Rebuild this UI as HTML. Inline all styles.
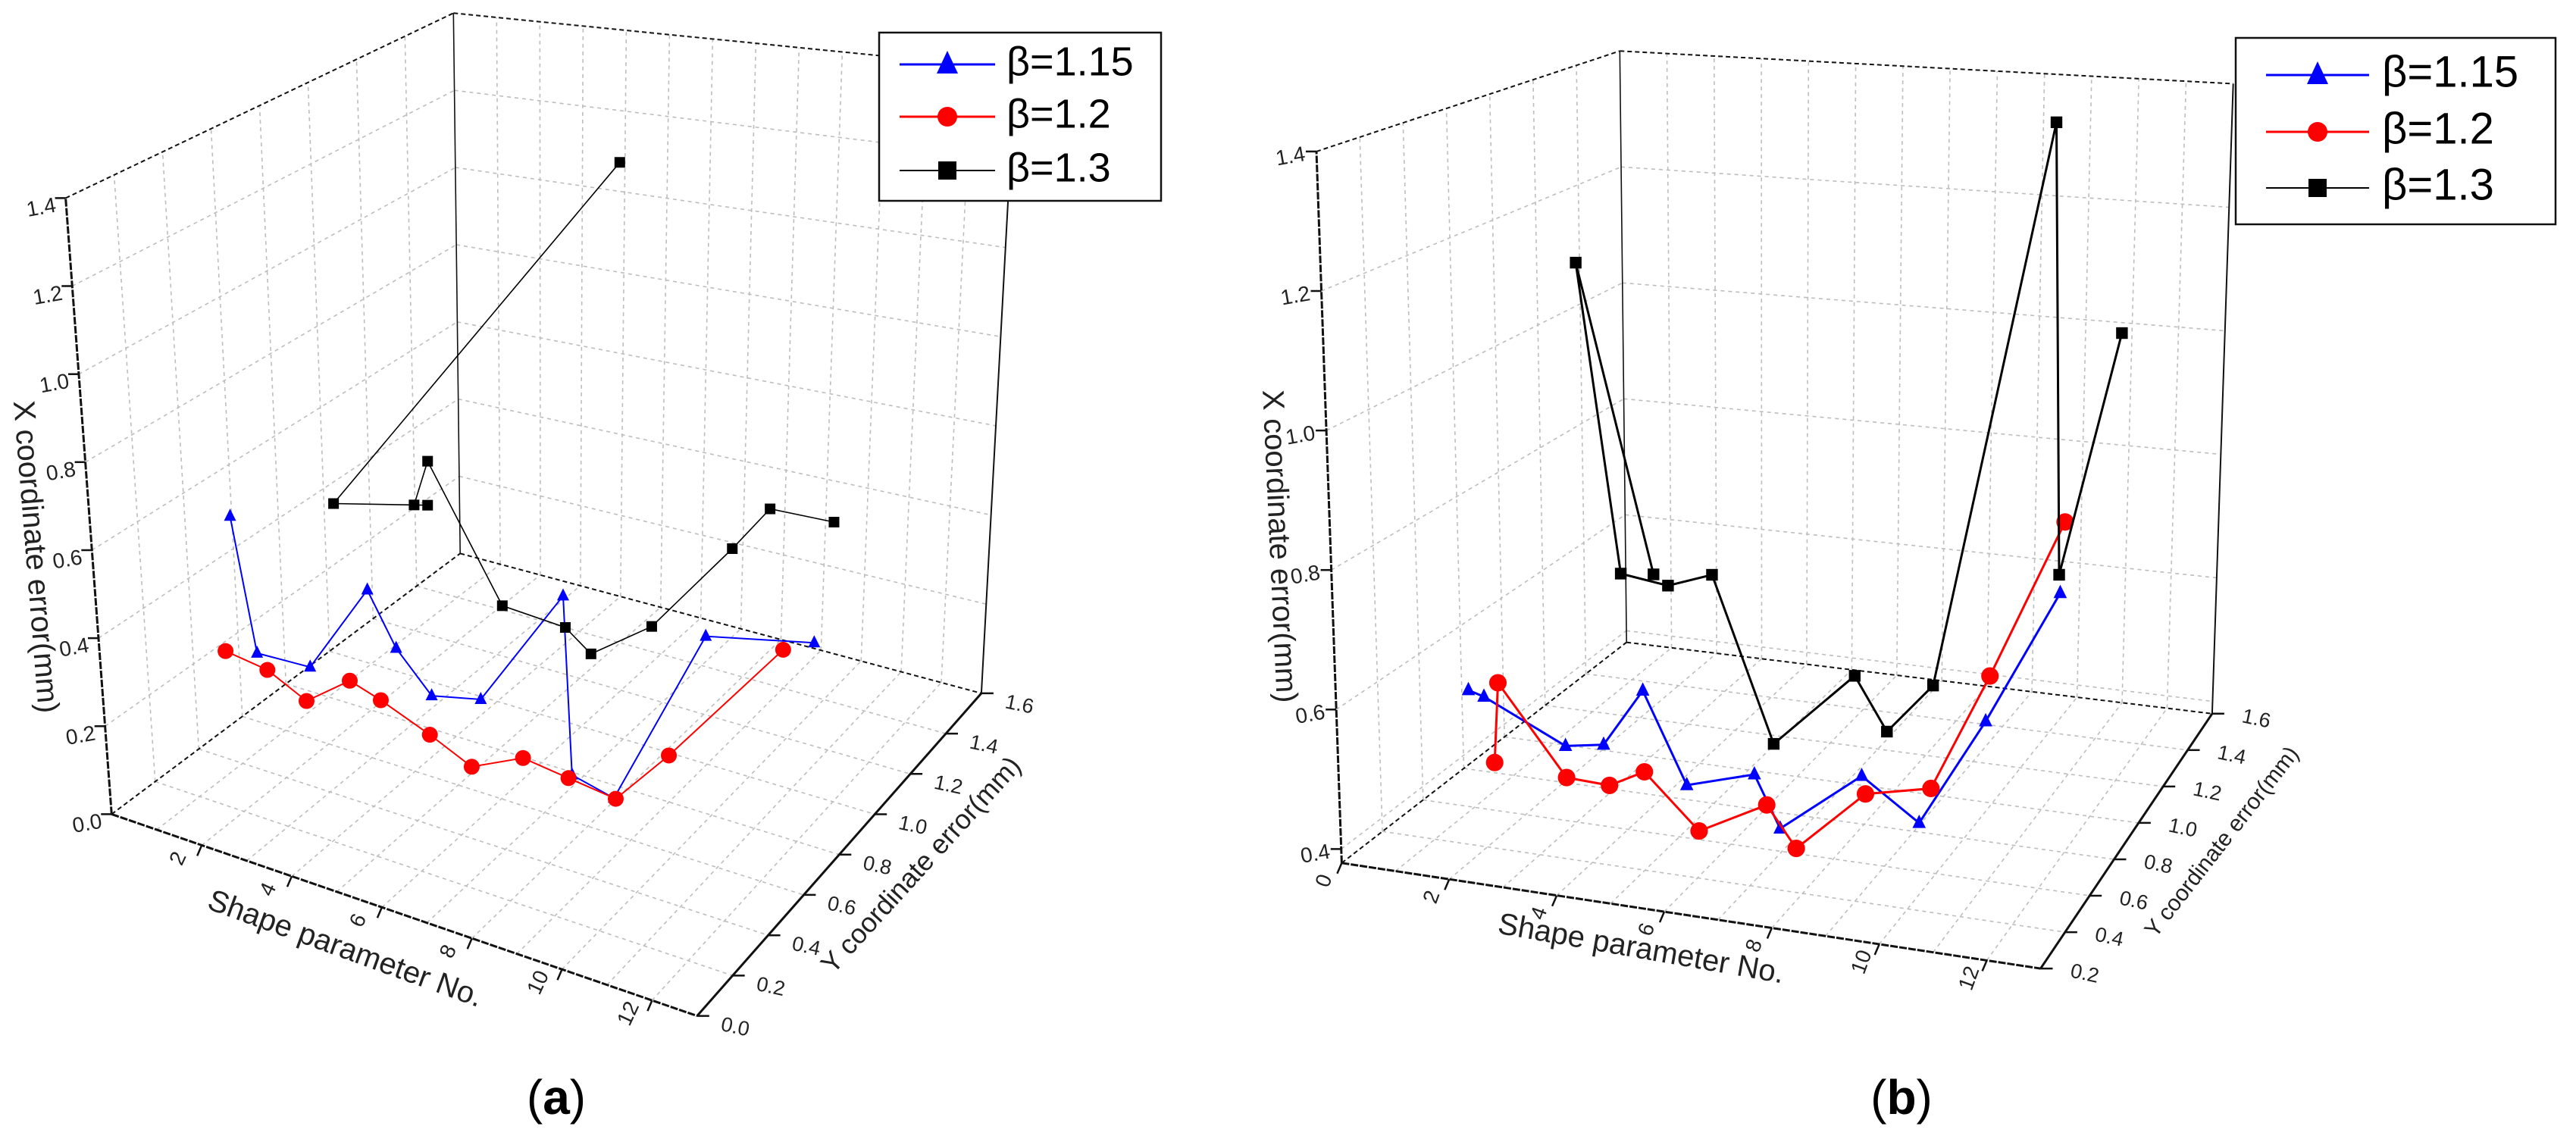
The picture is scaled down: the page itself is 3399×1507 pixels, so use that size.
<!DOCTYPE html>
<html><head><meta charset="utf-8"><style>
html,body{margin:0;padding:0;background:#fff;}
svg{display:block;}
text{font-family:"Liberation Sans",sans-serif;}
</style></head><body>
<svg id="chart" xmlns="http://www.w3.org/2000/svg" width="3399" height="1507" viewBox="0 0 3399 1507">
<rect x="0" y="0" width="3399" height="1507" fill="#fff"/>
</svg>
<script>
// ---- data (panel a) ----
const shapeA_blue=[2.63,3.23,4.41,5.68,6.32,7.11,8.20,10.03,10.23,11.16,13.20,15.61];
const errA_blue=[0.77,0.48,0.49,0.71,0.60,0.52,0.55,0.85,0.45,0.43,0.87,0.94];
const shapeA_red=[2.53,3.46,4.33,5.29,5.98,7.07,8.00,9.14,10.15,11.20,12.38,14.92];
const errA_red=[0.46,0.45,0.41,0.49,0.47,0.43,0.39,0.45,0.44,0.43,0.57,0.90];
const shapeA_black=[11.29,4.93,7.02,6.72,7.02,8.68,10.08,10.65,12.0,13.79,14.63,16.05];
const errA_black=[1.88,0.88,0.95,0.94,1.05,0.78,0.78,0.74,0.85,1.09,1.21,1.23];
// ---- data (panel b) ----
const shapeB_blue=[2.36,2.65,4.17,4.88,5.61,6.43,7.69,8.17,9.69,10.76,12.0,13.39];
const errB_blue=[0.655,0.649,0.596,0.606,0.692,0.566,0.596,0.524,0.617,0.562,0.722,0.922];
const shapeB_red=[2.85,2.91,4.19,4.99,5.64,6.66,7.92,8.47,9.76,10.98,12.08,13.48];
const errB_red=[0.557,0.672,0.551,0.549,0.576,0.503,0.555,0.499,0.592,0.614,0.788,1.025];
const shapeB_black=[5.81,4.36,5.20,6.08,6.90,8.05,9.56,10.16,11.02,13.32,13.37,14.54];
const errB_black=[0.861,1.291,0.855,0.848,0.873,0.644,0.759,0.686,0.762,1.596,0.948,1.308];
// ---- tick labels ----
const xTicksA=["2","4","6","8","10","12"];
const xTickValsA=[2,4,6,8,10,12];
const yTicksA=["0.0","0.2","0.4","0.6","0.8","1.0","1.2","1.4","1.6"];
const zTicksA=["0.0","0.2","0.4","0.6","0.8","1.0","1.2","1.4"];
const xTicksB=["0","2","4","6","8","10","12"];
const xTickValsB=[0,2,4,6,8,10,12];
const yTicksB=["0.2","0.4","0.6","0.8","1.0","1.2","1.4","1.6"];
const zTicksB=["0.4","0.6","0.8","1.0","1.2","1.4"];
const seriesNames=["β=1.15","β=1.2","β=1.3"];

const NS="http://www.w3.org/2000/svg";
const svg=document.getElementById('chart');
function mk(tag,attrs,parent){const e=document.createElementNS(NS,tag);for(const k in attrs)e.setAttribute(k,attrs[k]);(parent||svg).appendChild(e);return e;}

const panels={
 a:{sx:0.893,sy:0.961,ox0:0,
   C:{P000:[165,1118],P100:[1030,1395],P010:[680,760],P110:[1450,952],P001:[97,272],P011:[670,18],P111:[1500,95],P101:[1060,420]},
   ox:165,oy:1118,kx:66.5,ky:21.3,kz:604,w0:0,xMax:13,zMin:0,zMax:1.4,yMin:0,yMax:1.6,lw:[2,2,1.6],ms:1},
 b:{sx:1.115,sy:0.961,ox0:1650,
   C:{P000:[108,1185],P100:[935,1330],P010:[445,882],P110:[1138,980],P001:[78,208],P011:[437,70],P111:[1163,115],P101:[960,330]},
   ox:108,oy:1185,kx:63.5,ky:11.1,kz:958,w0:0.38,xMax:13,zMin:0.38,zMax:1.4,yMin:0.2,yMax:1.6,lw:[3,3,3],ms:1.1}
};
function real(p,pt){return [p.ox0+pt[0]*p.sx, pt[1]*p.sy];}
function lerp(a,b,t){return [a[0]+(b[0]-a[0])*t,a[1]+(b[1]-a[1])*t];}
function tri(p,u,v,w){const C=p.C;
 const bot=lerp(lerp(C.P000,C.P100,u),lerp(C.P010,C.P110,u),v);
 const top=lerp(lerp(C.P001,C.P101,u),lerp(C.P011,C.P111,u),v);
 return real(p,lerp(bot,top,w));}
function dataPt(p,shape,err){return real(p,[p.ox+shape*p.kx, p.oy+shape*p.ky-(err-p.w0)*p.kz]);}
function line(g,a,b,st,name){const l=mk('line',{x1:a[0].toFixed(1),y1:a[1].toFixed(1),x2:b[0].toFixed(1),y2:b[1].toFixed(1),stroke:st.c,'stroke-width':st.w},g);
 if(st.d)l.setAttribute('stroke-dasharray',st.d);
 
 return l;}
function txt(g,x,y,s,size,rot,name,anchor){const t=mk('text',{x:x.toFixed(1),y:y.toFixed(1),'font-size':size,fill:'#222','text-anchor':anchor||'middle','dominant-baseline':'middle'},g);
 if(rot)t.setAttribute('transform','rotate('+rot+' '+x.toFixed(1)+' '+y.toFixed(1)+')');
 t.textContent=s;
 
 return t;}

function drawPanel(key,X){
 const p=panels[key];
 const g=mk('g',{});
 
 
 const grid={c:'#bdbdbd',w:1.6,d:'5 5'};
 const nY=Math.round((p.yMax-p.yMin)/0.2);
 const zLv=[];for(let z=Math.ceil((p.zMin+1e-6)/0.2)*0.2;z<=p.zMax+1e-6;z+=0.2)zLv.push((z-p.zMin)/(p.zMax-p.zMin));
 for(let k=1;k<13;k++)line(g,tri(p,k/13,0,0),tri(p,k/13,1,0),grid,'floor-grid-x');
 for(let k=1;k<nY;k++)line(g,tri(p,0,k/nY,0),tri(p,1,k/nY,0),grid,'floor-grid-y');
 for(let k=1;k<13;k++)line(g,tri(p,k/13,1,0),tri(p,k/13,1,1),grid,'back-grid-x');
 zLv.forEach(w=>{if(w<0.999)line(g,tri(p,0,1,w),tri(p,1,1,w),grid,'back-grid-z');});
 for(let k=1;k<nY;k++)line(g,tri(p,0,k/nY,0),tri(p,0,k/nY,1),grid,'left-grid-y');
 zLv.forEach(w=>{if(w<0.999)line(g,tri(p,0,0,w),tri(p,0,1,w),grid,'left-grid-z');});
 const dash={c:'#111',w:2,d:'6 4'};
 line(g,tri(p,0,0,1),tri(p,0,1,1),dash,'frame-top-left');
 line(g,tri(p,0,1,1),tri(p,1,1,1),dash,'frame-top-back');
 line(g,tri(p,0,0,0),tri(p,0,1,0),dash,'frame-floor-left');
 line(g,tri(p,0,1,0),tri(p,1,1,0),dash,'frame-floor-back');
 line(g,tri(p,0,1,0),tri(p,0,1,1),{c:'#111',w:1.6},'frame-back-vertical');
 line(g,tri(p,1,1,0),tri(p,1,1,1),{c:'#111',w:2},'frame-right-vertical');
 line(g,tri(p,0,0,0),tri(p,0,0,1),{c:'#111',w:3,d:'10 2'},'z-axis');
 line(g,tri(p,0,0,0),tri(p,1,0,0),{c:'#111',w:3,d:'10 2'},'x-axis');
 line(g,tri(p,1,0,0),tri(p,1,1,0),{c:'#111',w:3},'y-axis');
 const xv=X.xvals;
 xv.forEach((v,i)=>{const a=tri(p,v/13,0,0);line(g,a,[a[0]-6,a[1]+14],{c:'#111',w:2.5},'x-tick');
  txt(g,a[0]+X.xo[0],a[1]+X.xo[1],X.xt[i],28,X.xr,'x-tick-label');});
 X.yt.forEach((s,i)=>{const a=tri(p,1,i/(X.yt.length-1),0);line(g,a,[a[0]+16,a[1]],{c:'#111',w:2.5},'y-tick');
  txt(g,a[0]+X.yo[0],a[1]+X.yo[1],s,27,X.yr,'y-tick-label');});
 X.zt.forEach((s,i)=>{const val=parseFloat(s);const w=(val-p.zMin)/(p.zMax-p.zMin);const a=tri(p,0,0,w);line(g,a,[a[0]-14,a[1]],{c:'#111',w:2.5},'z-tick');
  txt(g,a[0]+X.zo[0],a[1]+X.zo[1],s,28,X.zr,'z-tick-label');});
 txt(g,X.tz[0],X.tz[1],'X coordinate error(mm)',X.tz[3],X.tz[2],'z-axis-title');
 txt(g,X.tx[0],X.tx[1],'Shape parameter No.',X.tx[3],X.tx[2],'x-axis-title');
 txt(g,X.ty[0],X.ty[1],'Y coordinate error(mm)',X.ty[3],X.ty[2],'y-axis-title');
 const S=[[X.s[0],X.s[1],'#0000ff','tri'],[X.s[2],X.s[3],'#ff0000','circ'],[X.s[4],X.s[5],'#000','sq']];
 const names=['blue','red','black'];
 S.forEach((s,si)=>{const pts=s[0].map((u,i)=>dataPt(p,u,s[1][i]));
  const pl=mk('polyline',{points:pts.map(q=>q[0].toFixed(1)+','+q[1].toFixed(1)).join(' '),fill:'none',stroke:s[2],'stroke-width':p.lw[si]},g);
  
  
  pts.forEach(q=>{let m;const f=p.ms;
   if(s[3]==='tri'){m=mk('polygon',{points:[[q[0],q[1]-10*f],[q[0]-8*f,q[1]+6*f],[q[0]+8*f,q[1]+6*f]].map(a=>a.join(',')).join(' '),fill:s[2]},g);}
   else if(s[3]==='circ'){m=mk('circle',{cx:q[0],cy:q[1],r:10.5*f,fill:s[2]},g);}
   else{m=mk('rect',{x:q[0]-7*f,y:q[1]-7*f,width:14*f,height:14*f,fill:s[2]},g);}
   
   });
 });
 const L=X.leg;
 const lg=mk('g',{},g);
 
 
 mk('rect',{x:L.x,y:L.y,width:L.w,height:L.h,fill:'#fff',stroke:'#111','stroke-width':2.5},lg);
 S.forEach((s,si)=>{const yy=L.rows[si];
  const e=mk('g',{},lg);
  
  
  mk('line',{x1:L.l1,y1:yy,x2:L.l2,y2:yy,stroke:s[2],'stroke-width':si===2?2:3},e);
  const c=(L.l1+L.l2)/2;
  if(s[3]==='tri')mk('polygon',{points:(c)+','+(yy-18)+' '+(c-14)+','+(yy+12)+' '+(c+14)+','+(yy+12),fill:s[2]},e);
  else if(s[3]==='circ')mk('circle',{cx:c,cy:yy,r:13,fill:s[2]},e);
  else mk('rect',{x:c-12,y:yy-12,width:24,height:24,fill:s[2]},e);
  const t=mk('text',{x:L.tx,y:yy,'font-size':L.fs,fill:'#000','dominant-baseline':'middle'},e);
  t.textContent=seriesNames[si];});
 const pl=mk('text',{x:X.lab[0],y:X.lab[1],'font-size':64,'font-family':'Liberation Serif, serif','text-anchor':'middle',fill:'#000'},g);
 pl.innerHTML='(<tspan font-weight="bold">'+key+'</tspan>)';
 
 
}

drawPanel('a',{xvals:xTickValsA,xt:xTicksA,xo:[-30,18],xr:-65,yt:yTicksA,yo:[50,16],yr:12,zt:zTicksA,zo:[-32,14],zr:-10,
 tz:[45,735,85.4,40],tx:[455,1254,20,40],ty:[1217,1143,-47.7,36],
 s:[shapeA_blue,errA_blue,shapeA_red,errA_red,shapeA_black,errA_black],
 leg:{x:1160,y:43,w:372,h:222,l1:1187,l2:1313,rows:[85,154,225],tx:1328,fs:54},lab:[734,1470]});
drawPanel('b',{xvals:xTickValsB,xt:xTicksB,xo:[-22,24],xr:-70,yt:yTicksB,yo:[58,8],yr:12,zt:zTicksB,zo:[-34,8],zr:-10,
 tz:[1686,721,87.4,40],tx:[2165,1254,10,40],ty:[2933,1112,-52,30],
 s:[shapeB_blue,errB_blue,shapeB_red,errB_red,shapeB_black,errB_black],
 leg:{x:2950,y:50,w:422,h:246,l1:2990,l2:3126,rows:[99,174,248],tx:3143,fs:58},lab:[2509,1470]});
</script>
</body></html>
